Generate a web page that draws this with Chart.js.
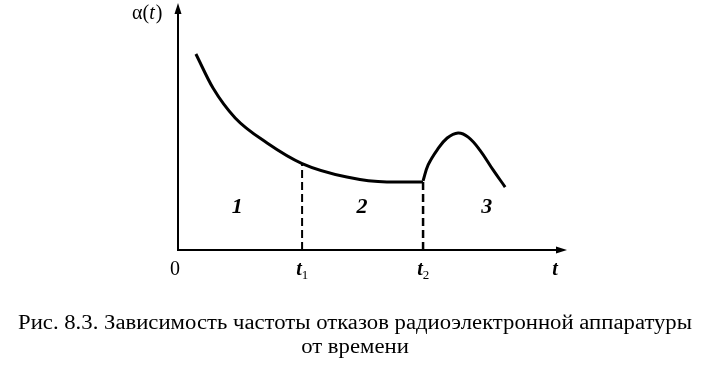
<!DOCTYPE html>
<html>
<head>
<meta charset="utf-8">
<script src="https://cdn.jsdelivr.net/npm/chart.js@4.4.1/dist/chart.umd.min.js"></script>
<style>
  html, body { margin: 0; padding: 0; background: #fff; }
  #wrap { position: relative; width: 706px; height: 373px; }
</style>
</head>
<body>
<div id="wrap"><canvas id="chart" width="706" height="373"></canvas></div>
<script>
// failure rate alpha(t): wear-in decay, normal use, wear-out bump
const T1 = 31.9;
const T2 = 63.0;
const decayT = [4.6, 9.0, 14.7, 22.9, 31.9, 43.4, 53.7, 63.0];
const decayA = [80.0, 66.1, 53.9, 43.7, 35.3, 29.8, 27.8, 27.8];
const bumpT = [63.0, 64.3, 66.6, 69.2, 72.0, 74.6, 77.6, 81.0, 84.1];
const bumpA = [28.2, 34.7, 40.8, 45.7, 47.8, 46.1, 40.8, 32.7, 25.7];
const regionLabels = ['1', '2', '3'];
const regionT = [15.2, 47.3, 79.4];
const regionA = 18.4;
const tickT = [0, T1, T2, 96.9];
const tickText = ['0', 't', 't', 't'];
const tickSub = ['', '1', '2', ''];
const captionLines = [
  'Рис. 8.3. Зависимость частоты отказов радиоэлектронной аппаратуры',
  'от времени'
];

const pts = (xs, ys) => xs.map((x, i) => ({ x, y: ys[i] }));

const SERIF = '"Liberation Serif", serif';

const decorPlugin = {
  id: 'decor',
  afterDatasetsDraw(chart) {
    const ctx = chart.ctx;
    const xs = chart.scales.x, ys = chart.scales.y;
    const x0 = xs.getPixelForValue(0), y0 = ys.getPixelForValue(0);
    const xEnd = xs.getPixelForValue(100), yTop = ys.getPixelForValue(100) - 2;
    ctx.save();
    ctx.strokeStyle = '#000';
    ctx.fillStyle = '#000';
    ctx.lineWidth = 2;
    // axes
    ctx.beginPath();
    ctx.moveTo(x0, y0); ctx.lineTo(xEnd - 4, y0);
    ctx.moveTo(x0, y0 + 1); ctx.lineTo(x0, yTop + 4);
    ctx.stroke();
    // arrowheads
    ctx.beginPath();
    ctx.moveTo(xEnd, y0); ctx.lineTo(xEnd - 11, y0 - 3.5); ctx.lineTo(xEnd - 11, y0 + 3.5); ctx.closePath();
    ctx.fill();
    ctx.beginPath();
    ctx.moveTo(x0, yTop); ctx.lineTo(x0 - 3.5, yTop + 11); ctx.lineTo(x0 + 3.5, yTop + 11); ctx.closePath();
    ctx.fill();

    ctx.textAlign = 'center';
    ctx.textBaseline = 'alphabetic';
    // region numbers
    ctx.font = 'italic bold 22px ' + SERIF;
    regionLabels.forEach((s, i) => {
      ctx.fillText(s, xs.getPixelForValue(regionT[i]), ys.getPixelForValue(regionA) + 8);
    });
    // tick labels
    tickT.forEach((t, i) => {
      const px = xs.getPixelForValue(t);
      const base = y0 + 25;
      if (tickText[i] === '0') {
        ctx.font = '20px ' + SERIF;
        ctx.fillText('0', px - 3, base);
      } else {
        ctx.font = 'italic bold 20px ' + SERIF;
        ctx.fillText(tickText[i], px - (tickSub[i] ? 3 : 0), base);
        if (tickSub[i]) {
          ctx.font = '13px ' + SERIF;
          ctx.fillText(tickSub[i], px + 3, base + 4);
        }
      }
    });
    // y axis title alpha(t)
    ctx.textAlign = 'left';
    let ax = 132;
    const ay = 19;
    ctx.font = '20px ' + SERIF;
    ctx.fillText('α(', ax, ay); ax += ctx.measureText('α(').width;
    ctx.font = 'italic 20px ' + SERIF;
    ctx.fillText('t', ax, ay); ax += ctx.measureText('t').width + 1;
    ctx.font = '20px ' + SERIF;
    ctx.fillText(')', ax, ay);

    // caption, fitted to the printed line width
    ctx.font = '20px ' + SERIF;
    const w1 = ctx.measureText(captionLines[0]).width;
    const k = 674 / w1;
    const cx = 355;
    [329, 353].forEach((by, i) => {
      ctx.save();
      ctx.translate(cx, by);
      ctx.scale(k, 1);
      ctx.textAlign = 'center';
      ctx.fillText(captionLines[i], 0, 0);
      ctx.restore();
    });
    ctx.restore();
  }
};

new Chart(document.getElementById('chart').getContext('2d'), {
  type: 'line',
  data: {
    datasets: [
      { data: pts(decayT, decayA), borderColor: '#000', borderWidth: 3, cubicInterpolationMode: 'monotone', pointRadius: 0 },
      { data: pts(bumpT, bumpA), borderColor: '#000', borderWidth: 3, tension: 0.4, pointRadius: 0 },
      { data: [{ x: T1, y: 0 }, { x: T1, y: decayA[4] }], borderColor: '#000', borderWidth: 2, borderDash: [8, 4], pointRadius: 0 },
      { data: [{ x: T2, y: 0 }, { x: T2, y: decayA[7] }], borderColor: '#000', borderWidth: 2.5, borderDash: [8, 4], pointRadius: 0 },
    ],
  },
  options: {
    responsive: false,
    animation: false,
    layout: { padding: { left: 178, top: 5, right: 139, bottom: 123 } },
    plugins: { legend: { display: false }, tooltip: { enabled: false } },
    scales: {
      x: { type: 'linear', min: 0, max: 100, display: false },
      y: { type: 'linear', min: 0, max: 100, display: false },
    },
  },
  plugins: [decorPlugin],
});
</script>
</body>
</html>
